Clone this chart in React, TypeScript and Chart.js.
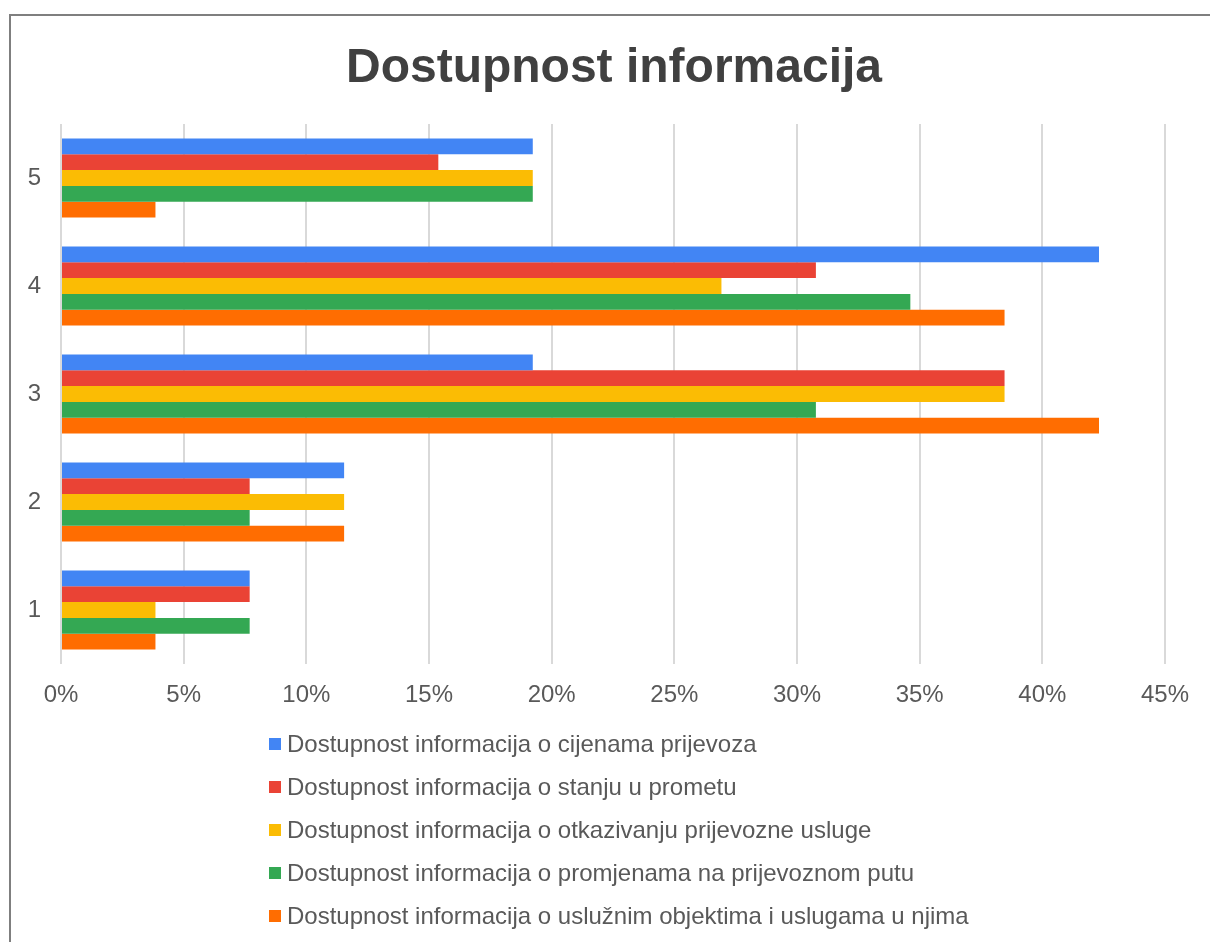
import React, { useEffect, useRef } from "react";
import { Chart, registerables } from "chart.js";

Chart.register(...registerables);

const title = "Dostupnost informacija";
const categories = ["1", "2", "3", "4", "5"];
const seriesNames = [
  "Dostupnost informacija o cijenama prijevoza",
  "Dostupnost informacija o stanju u prometu",
  "Dostupnost informacija o otkazivanju prijevozne usluge",
  "Dostupnost informacija o promjenama na prijevoznom putu",
  "Dostupnost informacija o uslužnim objektima i uslugama u njima",
];
const cijene = [7.69, 11.54, 19.23, 42.31, 19.23];
const stanje = [7.69, 7.69, 38.46, 30.77, 15.38];
const otkazivanje = [3.85, 11.54, 38.46, 26.92, 19.23];
const promjene = [7.69, 7.69, 30.77, 34.62, 19.23];
const usluzni = [3.85, 11.54, 42.31, 38.46, 3.85];
const colors = ["#4285F4", "#EA4335", "#FBBC04", "#34A853", "#FF6D01"];
const xTickMax = 45;
const xTickStep = 5;

const FONT = '"Liberation Sans", Arial, Helvetica, sans-serif';

const legendPlugin = {
  id: "customLegend",
  afterDraw(chart: any) {
    const ctx = chart.ctx;
    ctx.save();
    ctx.font = `24px ${FONT}`;
    ctx.textBaseline = "middle";
    ctx.textAlign = "left";
    chart.data.datasets.forEach((ds: any, i: number) => {
      const cy = 730 + i * 43;
      ctx.fillStyle = ds.backgroundColor;
      ctx.fillRect(260, cy - 6, 12, 12);
      ctx.fillStyle = "#595959";
      ctx.fillText(ds.label, 278, cy + 1);
    });
    ctx.restore();
  },
};

export default function App() {
  const ref = useRef<HTMLCanvasElement>(null);
  useEffect(() => {
    if (!ref.current) return;
    Chart.defaults.font.family = FONT;
    const values = [cijene, stanje, otkazivanje, promjene, usluzni];
    const chart = new Chart(ref.current, {
      type: "bar",
      data: {
        labels: categories,
        datasets: values.map((v, i) => ({
          label: seriesNames[i],
          data: v,
          backgroundColor: colors[i],
          borderWidth: 0,
          categoryPercentage: 0.73,
          barPercentage: 1.0,
        })),
      },
      options: {
        indexAxis: "y",
        responsive: false,
        animation: false,
        layout: { padding: { top: 0, left: 0, right: 0, bottom: 0 } },
        plugins: {
          legend: { display: false },
          tooltip: { enabled: false },
          title: {
            display: true,
            text: title,
            color: "#404040",
            font: { size: 48, weight: "bold", family: FONT },
            padding: { top: 26, bottom: 26.4 },
          },
        },
        scales: {
          x: {
            min: 0,
            max: xTickMax,
            ticks: {
              stepSize: xTickStep,
              color: "#595959",
              font: { size: 24, family: FONT },
              padding: 17,
              callback: (v: any) => `${v}%`,
            },
            grid: { color: "#d9d9d9", lineWidth: 2, drawTicks: false },
            border: { display: false },
            afterFit: (s: any) => {
              s.height = 292;
            },
          },
          y: {
            reverse: true,
            ticks: {
              color: "#595959",
              font: { size: 24, family: FONT },
              padding: 20,
            },
            grid: { display: false, drawTicks: false },
            border: { display: false },
            afterFit: (s: any) => {
              s.width = 52;
            },
          },
          yRight: {
            type: "category",
            position: "right",
            display: true,
            ticks: { display: false },
            grid: { display: false, drawTicks: false },
            border: { display: false },
            afterFit: (s: any) => {
              s.width = 54;
            },
          },
        },
      },
      plugins: [legendPlugin],
    });
    return () => chart.destroy();
  }, []);

  return (
    <div
      style={{
        position: "fixed",
        left: 0,
        top: 0,
        width: 1210,
        height: 942,
        overflow: "hidden",
        background: "#ffffff",
      }}
    >
      <canvas
        ref={ref}
        width={1210}
        height={942}
        style={{ position: "absolute", left: 9, top: 14, width: 1210, height: 942 }}
      />
      <div
        style={{
          position: "absolute",
          left: 9,
          top: 14,
          width: 1210,
          height: 942,
          border: "2px solid #7f7f7f",
          boxSizing: "border-box",
          pointerEvents: "none",
        }}
      />
    </div>
  );
}
